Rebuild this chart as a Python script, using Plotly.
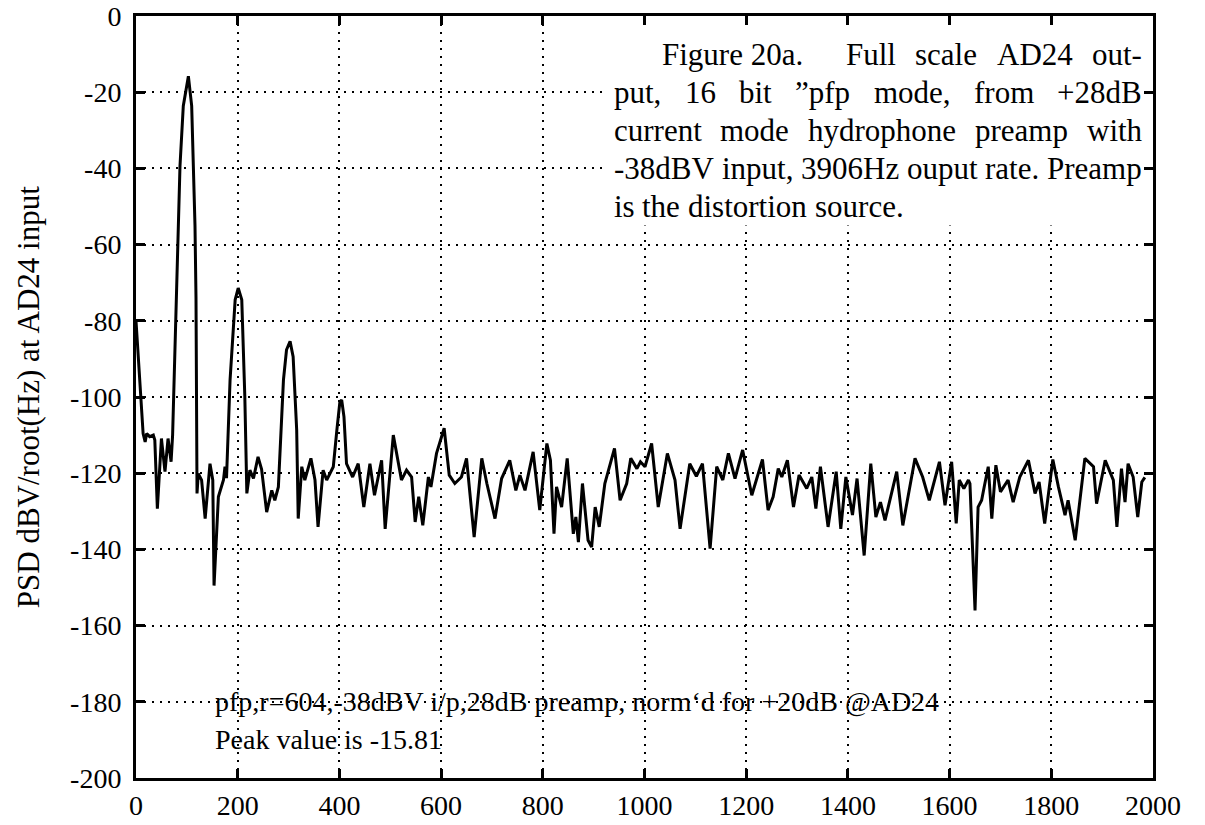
import plotly.graph_objects as go

# Power spectral density of the AD24 output (frequency in Hz, level in dBV/rtHz)
freq_hz = [
    0, 5, 11, 14, 18, 21, 27, 34, 37, 42, 50, 57, 63, 69, 72,
    80, 86.5, 93, 103, 109.5, 113, 116, 118, 120,
    122.5, 129, 136, 145.5, 151, 153.5, 162, 172, 175, 178,
    185, 195, 201, 208, 214, 218, 224, 231, 240, 247, 257, 267, 273, 280,
    290, 296, 303, 309, 316, 319, 326, 332, 344, 352, 358, 368, 375, 388,
    395, 401, 404.5, 409, 414, 426, 437, 448, 460, 469, 483, 490, 506,
    522, 532, 542, 549, 556, 564, 575, 580, 591, 606, 616, 627, 640, 650,
    665, 680, 690, 706, 719, 735, 747, 755, 765, 781, 794, 808, 815, 822,
    827, 837, 848, 860, 865, 870, 878, 889, 896, 903, 911, 922, 941, 952,
    965, 973, 985, 992, 1001, 1014, 1027, 1045, 1060, 1070, 1089, 1102,
    1114, 1129, 1142, 1154, 1165, 1178, 1193, 1211, 1224, 1232, 1243, 1253,
    1263, 1270, 1281, 1293, 1304, 1319, 1329, 1337, 1346, 1361, 1377, 1386,
    1396, 1409, 1418, 1432, 1445, 1455, 1464, 1473, 1496, 1508, 1532, 1547,
    1560, 1580, 1591, 1604, 1613, 1619, 1628, 1637, 1640, 1650, 1656, 1663,
    1668, 1676, 1683, 1691, 1700, 1715, 1725, 1738, 1755, 1768, 1776, 1787,
    1803, 1814, 1827, 1833, 1847, 1866, 1883, 1889, 1906, 1922, 1929, 1938,
    1945, 1951, 1961, 1970, 1978, 1984,
]
psd_dbv = [
    -80, -91, -101, -109.6, -111.8, -109.6, -110.4, -110, -111.3, -129.3, -110.9, -119.6, -110.9, -117, -110,
    -72, -39.4, -23.6, -15.81, -23.6, -39.4, -55, -74, -125.3,
    -120.1, -121.8, -131.9, -117.5, -121.8, -149.5, -126.2, -121.8, -118.3, -121.3,
    -95.5, -74.5, -71.4, -74.5, -99.9, -125.3, -119.2, -121.4, -115.7, -119, -130.2, -124.5, -127.1, -123.6,
    -95.5, -87.6, -85.4, -89.4, -108.7, -131.9, -118.3, -121.8, -116.1, -121.8, -134.1, -119.2, -121.8, -118.3,
    -108.7, -101.2, -100.8, -105.2, -117.5, -121, -117.5, -128.9, -117.5, -125.8, -116.6, -134.6, -110,
    -121.8, -119.2, -121, -132.8, -126.2, -133.7, -121, -123.6, -114.8, -108.2, -120.5, -122.7, -121, -116.1,
    -136.8, -116.1, -122.7, -131.9, -121.4, -116.6, -124.5, -120.5, -124.5, -114.4, -129.7, -112.2, -116.6, -135.9,
    -123.6, -128.9, -116.1, -135.9, -131.5, -138.1, -122.7, -137.6, -139.4, -128.9, -134.1, -122.7, -113.5, -127.1,
    -122.7, -116.1, -118.8, -117, -118.3, -112.2, -128.9, -114.8, -121.8, -134.6, -117.5, -120.8,
    -117.5, -139.8, -118.3, -121.8, -114.8, -121.4, -113.9, -125.8, -119.6, -116.4, -129.7, -126.2,
    -118.8, -121, -116.6, -128.9, -120.5, -124, -121, -129.3, -118.3, -134.1, -119.6, -134.6,
    -121, -131, -121.4, -141.6, -117.5, -131.5, -127.6, -132.4, -119.6, -133.7, -116.1, -121,
    -127.1, -117, -128.4, -117, -133.2, -121.8, -124, -121.8, -122.7, -156, -128.9, -127.1,
    -123.6, -118.3, -131.9, -117.9, -124.9, -121.8, -127.6, -121, -116.6, -125.3, -122.3, -133.2,
    -116.4, -123.6, -131, -127.1, -137.6, -116.1, -118.3, -128, -116.6, -121.8, -134.1, -118.8,
    -127.6, -117.5, -121, -131.5, -122.3, -121.1,
]

x_ticks = list(range(0, 2001, 200))
y_ticks = list(range(-200, 1, 20))

# figure caption, set as a justified paragraph: (words, start Hz, end Hz or None, level dB)
caption_groups = [
    (["Figure 20a."], 1030, None, -10),
    (["Full", "scale", "AD24", "out-"], 1392, 1974, -10),
    (["put,", "16", "bit", "”pfp", "mode,", "from", "+28dB"], 936, 1974, -20),
    (["current", "mode", "hydrophone", "preamp", "with"], 936, 1974, -30),
    (["-38dBV", "input,", "3906Hz", "ouput", "rate.", "Preamp"], 936, 1974, -40),
    (["is", "the", "distortion", "source."], 936, None, -50),
]

serif = "Liberation Serif"
CAP_SIZE = 31
PLOT_W_PX = 1017.0
X_SPAN = 2000.0

# Times-compatible advance widths (em) for estimating word lengths
_W = {" ": .25, ",": .25, ".": .25, "-": .333, "+": .564, "”": .444,
      "A": .722, "B": .667, "D": .722, "F": .556, "H": .722, "P": .556, "V": .722}
_W.update({c: .5 for c in "0123456789"})
_W.update(dict(zip("abcdefghijklmnopqrstuvwxyz",
                   [.444, .5, .444, .5, .444, .333, .5, .5, .278, .278, .5, .278, .778,
                    .5, .5, .5, .5, .333, .389, .278, .5, .5, .722, .5, .5, .444])))


def text_px(s, size):
    return sum(_W.get(c, .5) for c in s) * size


fig = go.Figure()
fig.add_trace(go.Scatter(
    x=freq_hz, y=psd_dbv, mode="lines",
    line=dict(color="black", width=3),
    showlegend=False, hoverinfo="skip",
))

axis_common = dict(
    showline=True, linecolor="black", linewidth=3, mirror="ticks",
    ticks="inside", ticklen=9, tickwidth=2.5, tickcolor="black",
    showgrid=True, gridcolor="black", gridwidth=1.5, griddash="2px,6px",
    zeroline=False, automargin=False,
    tickfont=dict(family=serif, size=28, color="black"),
)

fig.update_xaxes(range=[0, 2000], tickvals=x_ticks, ticktext=[str(v) for v in x_ticks], **axis_common)
fig.update_yaxes(range=[-200, 0], tickvals=y_ticks, ticktext=[str(v) for v in y_ticks],
                 ticklabelstandoff=6, **axis_common)

# blank panel behind the figure caption
fig.add_shape(type="rect", xref="x", yref="y", x0=918, x1=2000, y0=-55, y1=0,
              fillcolor="white", line=dict(width=0), layer="between")

cap_font = dict(family=serif, size=CAP_SIZE, color="black")
hz_per_px = X_SPAN / PLOT_W_PX
for words, x0, x1, yv in caption_groups:
    widths = [text_px(w, CAP_SIZE) for w in words]
    if x1 is None or len(words) == 1:
        gap = text_px(" ", CAP_SIZE)
    else:
        gap = ((x1 - x0) / hz_per_px - sum(widths)) / (len(words) - 1)
    pos = 0.0
    for w, wd in zip(words, widths):
        fig.add_annotation(x=x0 + pos * hz_per_px, y=yv, xref="x", yref="y", text=w,
                           showarrow=False, xanchor="left", yanchor="middle", font=cap_font)
        pos += wd + gap

note_font = dict(family=serif, size=28, color="black")
fig.add_annotation(x=151, y=-180, xref="x", yref="y",
                   text="pfp,r=604,-38dBV i/p,28dB preamp, norm‘d for +20dB @AD24",
                   showarrow=False, xanchor="left", yanchor="middle", font=note_font)
fig.add_annotation(x=151, y=-190, xref="x", yref="y",
                   text="Peak value is %.2f" % max(psd_dbv),
                   showarrow=False, xanchor="left", yanchor="middle", font=note_font)

fig.add_annotation(x=-0.106, y=0.5, xref="paper", yref="paper",
                   text="PSD dBV/root(Hz) at AD24 input", textangle=-90,
                   showarrow=False, xanchor="center", yanchor="middle",
                   font=dict(family=serif, size=31, color="black"))

fig.update_layout(
    width=1205, height=825,
    margin=dict(l=136, r=52, t=16, b=47, autoexpand=False),
    paper_bgcolor="white", plot_bgcolor="white",
)

fig.write_html("out.html")
